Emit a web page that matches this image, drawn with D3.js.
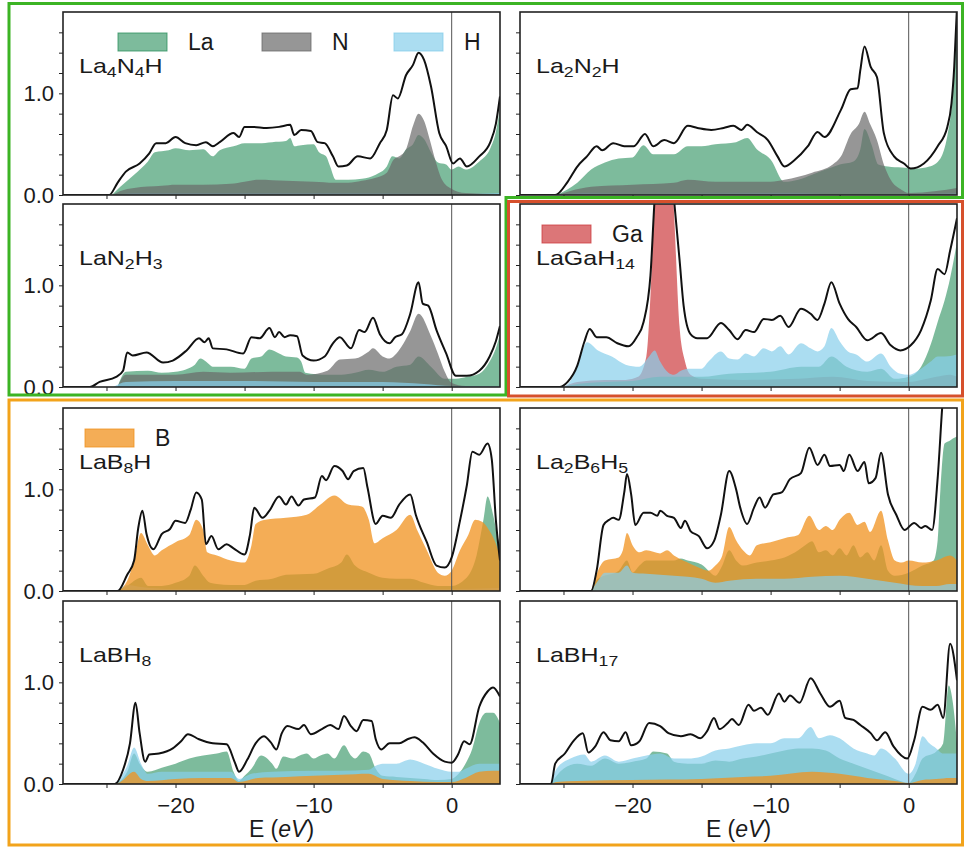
<!DOCTYPE html>
<html>
<head>
<meta charset="utf-8">
<script src="https://cdn.jsdelivr.net/npm/d3@7"></script>
<style>
  body { margin: 0; background: #fff; }
  svg { display: block; }
  text { font-family: "Liberation Sans", Arial, Helvetica, sans-serif; fill: #1a1a1a; }
</style>
</head>
<body>
<svg id="chart" width="964" height="847"></svg>
<script>
// ---- axes ----
const energyRange = [-28.15, 3.5];
const dosRange = [0, 1.8];
const energyTicks = [-25, -20, -15, -10, -5, 0];
const energyTickLabels = [-20, -10, 0];
const dosTicks = [0, 0.2, 0.4, 0.6, 0.8, 1.0, 1.2, 1.4, 1.6];
const dosTickLabels = [0, 1.0];

// ---- La4N4H : [E (eV), DOS] ----
const la4n4h_total = [[-28.15,0],[-24.8,0],[-24.2,0.12],[-23.6,0.23],[-22.6,0.31],[-21.9,0.41],[-21.4,0.51],[-20.7,0.51],[-20.0,0.57],[-19.3,0.51],[-18.5,0.49],[-17.8,0.52],[-17.3,0.48],[-16.8,0.52],[-15.8,0.61],[-15.4,0.57],[-15.0,0.67],[-14.4,0.67],[-13.4,0.66],[-12.5,0.67],[-11.7,0.69],[-11.4,0.59],[-10.9,0.64],[-10.2,0.63],[-9.7,0.52],[-9.2,0.51],[-8.6,0.38],[-8.2,0.28],[-7.6,0.29],[-6.8,0.38],[-5.9,0.36],[-5.2,0.51],[-4.7,0.64],[-4.25,0.98],[-3.9,0.95],[-3.3,1.18],[-2.8,1.28],[-2.4,1.40],[-2.0,1.33],[-1.5,1.07],[-0.9,0.61],[-0.4,0.48],[0.1,0.31],[0.6,0.36],[1.1,0.28],[2.0,0.38],[2.8,0.52],[3.2,0.70],[3.5,0.97]];
const la4n4h_La = [[-24.6,0],[-24,0.08],[-23,0.2],[-22,0.33],[-21.5,0.42],[-20.5,0.44],[-20,0.46],[-19,0.44],[-18,0.45],[-17.3,0.38],[-16.8,0.44],[-15.8,0.48],[-15,0.51],[-14,0.51],[-13,0.52],[-12,0.53],[-11.7,0.56],[-11.4,0.48],[-10.9,0.49],[-10.0,0.50],[-9.6,0.42],[-9.1,0.38],[-8.8,0.28],[-8.4,0.15],[-7.5,0.15],[-6.5,0.16],[-5.5,0.2],[-4.7,0.28],[-4.3,0.38],[-3.8,0.36],[-3.3,0.45],[-2.8,0.5],[-2.4,0.59],[-2.0,0.55],[-1.5,0.42],[-1.0,0.32],[-0.4,0.30],[0,0.25],[0.5,0.28],[1,0.25],[2,0.33],[2.8,0.46],[3.2,0.62],[3.5,0.85]];
const la4n4h_N = [[-24.6,0],[-24,0.04],[-23,0.07],[-21,0.09],[-20,0.1],[-18,0.1],[-16,0.11],[-15,0.13],[-14,0.15],[-12,0.14],[-10,0.13],[-8.5,0.12],[-7.5,0.12],[-6.5,0.14],[-5.5,0.17],[-4.7,0.22],[-4.2,0.35],[-3.8,0.38],[-3.3,0.45],[-2.8,0.68],[-2.4,0.80],[-2.0,0.73],[-1.6,0.55],[-1.2,0.35],[-0.7,0.15],[0,0.06],[1,0.02],[3.5,0.01]];
const la4n4h_H = [[-24.6,0],[-23,0.02],[-15,0.02],[-7,0.02],[0,0.01],[3.5,0.02]];

// ---- La2N2H ----
const la2n2h_total = [[-28.15,0],[-25.6,0],[-24.7,0.13],[-24.0,0.28],[-23.3,0.38],[-22.6,0.48],[-22.2,0.44],[-21.4,0.51],[-20.6,0.48],[-19.9,0.48],[-19.1,0.60],[-18.5,0.48],[-17.7,0.54],[-17.0,0.51],[-16.0,0.68],[-15.3,0.66],[-14.3,0.64],[-13.4,0.66],[-12.7,0.68],[-12.1,0.64],[-11.7,0.69],[-11.0,0.62],[-10.2,0.54],[-9.5,0.38],[-9.0,0.28],[-8.3,0.34],[-7.3,0.48],[-6.6,0.62],[-6.1,0.57],[-4.9,0.84],[-4.2,1.04],[-3.7,1.05],[-3.5,1.23],[-3.2,1.46],[-2.75,1.26],[-2.3,1.16],[-1.8,0.61],[-1.06,0.38],[-0.34,0.31],[0.15,0.26],[1.1,0.31],[2.1,0.48],[2.8,0.67],[3.1,0.9],[3.3,1.26],[3.5,1.85]];
const la2n2h_La = [[-25.5,0],[-24,0.12],[-23,0.25],[-22,0.32],[-21,0.36],[-20,0.37],[-19.2,0.49],[-18.5,0.4],[-17,0.4],[-16,0.48],[-15,0.48],[-14,0.5],[-12.5,0.52],[-11.7,0.56],[-11,0.45],[-10,0.35],[-9,0.13],[-8,0.15],[-7,0.2],[-6,0.25],[-5,0.3],[-4,0.33],[-3.5,0.45],[-3.2,0.65],[-2.7,0.5],[-2.2,0.3],[-1.5,0.28],[-0.5,0.27],[0.5,0.26],[1.5,0.28],[2.3,0.36],[2.8,0.58],[3.1,0.85],[3.3,1.2],[3.5,1.85]];
const la2n2h_N = [[-25.5,0],[-24.5,0.04],[-23,0.08],[-20,0.1],[-17,0.12],[-16,0.15],[-14,0.13],[-10,0.13],[-9,0.15],[-7,0.22],[-5.5,0.3],[-4.9,0.38],[-4.2,0.6],[-3.6,0.7],[-3.2,0.82],[-2.8,0.7],[-2.3,0.54],[-1.8,0.3],[-1.3,0.15],[-0.5,0.05],[0,0.02],[2,0.04],[3.5,0.07]];
const la2n2h_H = [[-25.5,0],[-23.5,0.02],[-20,0.01],[-8,0.02],[-6,0.01],[0,0.01],[3.5,0.02]];

// ---- LaN2H3 ----
const lan2h3_total = [[-28.15,0],[-26.2,0],[-25.5,0.05],[-24.3,0.1],[-23.8,0.16],[-23.5,0.34],[-23.1,0.31],[-22.1,0.34],[-20.9,0.24],[-20.2,0.26],[-19.2,0.36],[-18.3,0.48],[-17.9,0.44],[-17.6,0.48],[-17.3,0.38],[-16.3,0.37],[-15.1,0.33],[-14.5,0.49],[-13.9,0.48],[-13.2,0.58],[-12.8,0.49],[-12.5,0.54],[-12.1,0.49],[-11.7,0.51],[-11.2,0.50],[-10.8,0.31],[-10.0,0.26],[-9.2,0.30],[-8.6,0.43],[-8.1,0.49],[-7.3,0.38],[-6.7,0.56],[-6.3,0.54],[-5.7,0.68],[-5.2,0.52],[-4.5,0.43],[-4.1,0.49],[-3.6,0.52],[-3.0,0.72],[-2.4,1.03],[-2.1,0.82],[-1.7,0.80],[-1.1,0.56],[-0.4,0.33],[0.3,0.11],[1.1,0.11],[2.0,0.16],[2.75,0.3],[3.2,0.45],[3.5,0.6]];
const lan2h3_La = [[-24.2,0],[-23.6,0.15],[-22,0.16],[-21,0.14],[-20,0.15],[-18.6,0.22],[-18.2,0.28],[-17.8,0.25],[-17.3,0.2],[-16,0.2],[-15,0.18],[-14.5,0.28],[-13.8,0.3],[-13.2,0.37],[-12.5,0.33],[-12,0.3],[-11.2,0.29],[-10.9,0.25],[-10.6,0.14],[-9,0.12],[-8,0.12],[-7,0.14],[-6,0.17],[-5,0.15],[-4,0.2],[-3,0.22],[-2.4,0.3],[-1.5,0.2],[-0.5,0.08],[0.3,0.08],[1.1,0.1],[2,0.13],[2.75,0.25],[3.2,0.38],[3.5,0.52]];
const lan2h3_N = [[-24.2,0],[-23.6,0.12],[-20,0.12],[-18,0.15],[-16,0.14],[-13,0.15],[-11,0.15],[-10.5,0.12],[-9,0.16],[-8.1,0.27],[-7,0.28],[-6,0.35],[-5.7,0.38],[-5,0.3],[-4.5,0.28],[-4,0.33],[-3,0.55],[-2.4,0.72],[-1.5,0.5],[-1,0.33],[-0.5,0.15],[0,0.04],[1,0.01],[3.5,0.01]];
const lan2h3_H = [[-24.5,0],[-23.6,0.05],[-20,0.06],[-15,0.06],[-10,0.05],[-5,0.05],[-2,0.03],[0,0.01],[3.5,0.01]];

// ---- LaGaH14 ----
const lagah14_total = [[-28.15,0],[-25.3,0],[-24.7,0.05],[-24.0,0.21],[-23.5,0.44],[-23.1,0.57],[-22.6,0.49],[-21.9,0.49],[-21.1,0.43],[-20.3,0.40],[-19.7,0.49],[-19.2,0.64],[-18.7,1.1],[-18.4,1.85],[-17.7,2.8],[-17.0,1.85],[-16.6,1.26],[-16.3,0.80],[-15.8,0.52],[-15.3,0.48],[-14.6,0.48],[-13.6,0.63],[-13.0,0.56],[-12.4,0.47],[-11.8,0.56],[-11.2,0.54],[-10.5,0.67],[-9.9,0.66],[-9.3,0.70],[-8.7,0.59],[-7.8,0.77],[-7.1,0.72],[-6.6,0.66],[-6.1,0.82],[-5.6,1.03],[-5.0,0.82],[-4.4,0.67],[-3.8,0.59],[-3.0,0.46],[-2.0,0.53],[-1.3,0.41],[-0.6,0.36],[0.15,0.41],[0.9,0.56],[1.6,0.85],[2.1,1.16],[2.6,1.11],[3.0,1.34],[3.5,1.66]];
const lagah14_La = [[-25,0],[-24,0.03],[-22,0.05],[-20,0.06],[-18,0.1],[-15,0.1],[-13,0.13],[-10,0.15],[-7.8,0.2],[-6.5,0.2],[-5.6,0.3],[-4.5,0.2],[-3,0.15],[-2,0.18],[-1,0.08],[0,0.1],[0.9,0.2],[1.6,0.42],[2.1,0.64],[2.6,0.85],[3.0,1.07],[3.5,1.43]];
const lagah14_H = [[-25,0],[-24.5,0.06],[-24,0.2],[-23.3,0.44],[-22.5,0.36],[-21.5,0.3],[-20.5,0.22],[-19.5,0.2],[-18.8,0.3],[-18.4,0.36],[-18,0.25],[-17.4,0.14],[-17,0.12],[-16.5,0.16],[-16,0.18],[-15,0.18],[-14.5,0.25],[-13.6,0.35],[-13,0.28],[-12.4,0.27],[-11.8,0.33],[-11.2,0.3],[-10.5,0.38],[-9.9,0.35],[-9.3,0.4],[-8.7,0.32],[-7.8,0.43],[-7.1,0.38],[-6.6,0.35],[-6.1,0.4],[-5.6,0.58],[-5,0.45],[-4.4,0.35],[-3.8,0.32],[-3,0.25],[-2,0.33],[-1.3,0.2],[-0.6,0.13],[0,0.12],[0.9,0.18],[1.6,0.25],[2.1,0.3],[2.6,0.3],[3.5,0.32]];
const lagah14_Ga = [[-25,0],[-24,0.05],[-22,0.07],[-20.5,0.07],[-19.6,0.1],[-19.0,0.3],[-18.7,0.9],[-18.4,1.85],[-17.7,2.7],[-17.05,1.85],[-16.6,0.6],[-16.2,0.25],[-15.8,0.12],[-15,0.08],[-12,0.07],[-8,0.08],[-5.5,0.1],[-3,0.06],[0,0.05],[2,0.1],[3,0.12],[3.5,0.1]];

// ---- LaB8H ----
const lab8h_total = [[-28.15,0],[-24.2,0],[-23.5,0.16],[-23.0,0.30],[-22.7,0.62],[-22.4,0.79],[-22.1,0.56],[-21.6,0.41],[-21.0,0.56],[-20.4,0.61],[-20.0,0.69],[-19.3,0.67],[-18.9,0.80],[-18.5,0.97],[-18.1,0.90],[-17.8,0.46],[-17.4,0.54],[-16.9,0.41],[-16.3,0.46],[-15.8,0.42],[-15.0,0.36],[-14.6,0.56],[-14.3,0.82],[-13.7,0.72],[-13.2,0.79],[-12.5,0.93],[-12.0,0.85],[-11.6,0.93],[-11.1,0.84],[-10.7,0.90],[-9.9,0.92],[-9.4,1.13],[-9.1,1.09],[-8.5,1.23],[-7.9,1.18],[-7.5,1.10],[-7.1,1.18],[-6.4,1.21],[-6.1,1.02],[-5.5,0.66],[-5.0,0.74],[-4.4,0.72],[-3.8,0.85],[-3.0,0.95],[-2.6,0.75],[-1.8,0.48],[-1.1,0.25],[-0.5,0.23],[0.0,0.33],[0.6,0.69],[1.1,1.04],[1.5,1.37],[2.0,1.34],[2.6,1.45],[2.9,1.3],[3.2,0.7],[3.5,0.3]];
const lab8h_La = [[-24.2,0],[-23.5,0.05],[-22.5,0.13],[-22,0.05],[-21,0.05],[-20,0.08],[-19,0.15],[-18.6,0.25],[-18,0.15],[-17.5,0.08],[-17,0.07],[-16,0.06],[-15,0.06],[-14.2,0.1],[-13,0.12],[-12,0.16],[-10,0.17],[-9,0.22],[-8,0.28],[-7.6,0.36],[-7,0.25],[-6,0.18],[-5,0.13],[-4,0.12],[-3,0.12],[-2,0.08],[-1,0.05],[0,0.05],[1,0.12],[1.8,0.35],[2.3,0.7],[2.6,0.93],[3.0,0.75],[3.3,0.55],[3.5,0.45]];
const lab8h_H = [[-24.2,0],[-23.5,0.06],[-22.5,0.04],[-20,0.02],[-10,0.02],[0,0.02],[3.5,0.03]];
const lab8h_B = [[-24.2,0],[-23.5,0.1],[-23,0.3],[-22.5,0.57],[-22,0.45],[-21.5,0.35],[-21,0.4],[-20,0.48],[-19,0.55],[-18.5,0.7],[-18,0.6],[-17.7,0.38],[-17,0.35],[-16,0.3],[-15,0.28],[-14.5,0.45],[-14.2,0.66],[-13.5,0.7],[-12,0.72],[-10.5,0.75],[-9.5,0.85],[-8.5,0.94],[-7.5,0.85],[-6.5,0.83],[-6,0.7],[-5.6,0.47],[-5,0.52],[-4,0.6],[-3,0.75],[-2.5,0.6],[-1.8,0.4],[-1,0.18],[-0.5,0.15],[0,0.2],[0.6,0.4],[1.2,0.55],[1.7,0.7],[2.2,0.68],[2.7,0.6],[3.1,0.5],[3.5,0.35]];

// ---- La2B6H5 ----
const la2b6h5_total = [[-28.15,0],[-23.0,0],[-22.6,0.2],[-22.1,0.65],[-21.7,0.70],[-21.4,0.72],[-21.0,0.70],[-20.6,0.97],[-20.4,1.15],[-20.1,0.95],[-19.8,0.65],[-19.2,0.77],[-18.7,0.77],[-18.2,0.74],[-18.0,0.79],[-17.5,0.74],[-17.0,0.72],[-16.5,0.62],[-16.2,0.69],[-15.8,0.59],[-15.2,0.54],[-14.6,0.42],[-14.1,0.49],[-13.6,0.75],[-13.0,1.18],[-12.5,1.0],[-12.2,0.82],[-11.7,0.66],[-11.2,0.82],[-10.8,0.92],[-10.4,0.82],[-9.8,0.95],[-9.2,0.97],[-8.6,1.10],[-7.8,1.16],[-7.2,1.41],[-6.6,1.24],[-6.1,1.34],[-5.7,1.23],[-5.0,1.24],[-4.7,1.18],[-4.3,1.34],[-3.7,1.18],[-3.2,1.27],[-2.9,1.06],[-2.4,1.11],[-2.0,1.36],[-1.5,0.95],[-0.9,0.75],[-0.3,0.60],[0.4,0.67],[0.9,0.62],[1.2,0.64],[1.7,0.60],[2.1,1.11],[2.45,1.85],[3.5,3.0]];
const la2b6h5_La = [[-23,0],[-22.5,0.12],[-21,0.2],[-20.4,0.3],[-20,0.18],[-19.5,0.25],[-19,0.3],[-18,0.3],[-17,0.3],[-16.5,0.32],[-16,0.3],[-15,0.26],[-14.5,0.2],[-14,0.15],[-13.5,0.25],[-13,0.4],[-12.5,0.3],[-12,0.25],[-11,0.28],[-10,0.3],[-9,0.33],[-8,0.4],[-7.5,0.45],[-7,0.49],[-6.5,0.38],[-6,0.4],[-5.5,0.35],[-5,0.42],[-4.5,0.35],[-4,0.45],[-3.5,0.33],[-3,0.38],[-2.5,0.3],[-2,0.45],[-1.5,0.2],[-1,0.15],[0,0.18],[1,0.25],[1.8,0.3],[2.1,0.5],[2.3,1.0],[2.6,1.45],[3.0,1.48],[3.2,1.5],[3.5,1.52]];
const la2b6h5_H = [[-23,0],[-22.5,0.1],[-22,0.18],[-21,0.18],[-20.4,0.25],[-20,0.18],[-19,0.17],[-17,0.15],[-15,0.12],[-14,0.08],[-13,0.1],[-11,0.12],[-9,0.12],[-7,0.14],[-5,0.15],[-3,0.12],[-1,0.08],[0,0.06],[1,0.05],[2,0.05],[3,0.07],[3.5,0.07]];
const la2b6h5_B = [[-23,0],[-22.5,0.2],[-22,0.3],[-21,0.33],[-20.7,0.4],[-20.4,0.57],[-20,0.45],[-19.5,0.38],[-19,0.4],[-18,0.37],[-17.5,0.4],[-17,0.35],[-16,0.28],[-15,0.22],[-14.5,0.2],[-14,0.25],[-13.5,0.35],[-13,0.63],[-12.5,0.5],[-12,0.4],[-11.5,0.35],[-11,0.45],[-10,0.48],[-9,0.52],[-8,0.55],[-7.2,0.74],[-6.5,0.6],[-6,0.64],[-5.5,0.6],[-5,0.7],[-4.3,0.77],[-3.7,0.65],[-3.2,0.68],[-2.8,0.58],[-2,0.79],[-1.5,0.5],[-1,0.3],[-0.5,0.28],[0,0.3],[1,0.28],[2,0.3],[3,0.35],[3.5,0.3]];

// ---- LaBH8 ----
const labh8_total = [[-28.15,0],[-24.4,0],[-23.8,0.14],[-23.3,0.40],[-22.9,0.80],[-22.6,0.50],[-22.2,0.22],[-21.9,0.29],[-21.2,0.30],[-20.2,0.35],[-19.6,0.42],[-19.1,0.49],[-18.3,0.44],[-17.3,0.40],[-16.3,0.39],[-15.7,0.21],[-15.4,0.12],[-14.8,0.24],[-14.2,0.40],[-13.6,0.47],[-13.1,0.41],[-12.7,0.34],[-12.3,0.50],[-11.9,0.57],[-11.1,0.54],[-10.7,0.58],[-10.2,0.49],[-9.4,0.54],[-8.8,0.58],[-8.2,0.54],[-7.8,0.67],[-7.3,0.57],[-6.9,0.52],[-6.4,0.63],[-5.8,0.62],[-5.5,0.44],[-5.1,0.34],[-4.5,0.40],[-3.8,0.40],[-3.2,0.44],[-2.7,0.46],[-2.1,0.41],[-1.35,0.30],[-0.5,0.22],[0.0,0.21],[0.46,0.29],[0.9,0.42],[1.3,0.39],[2.0,0.76],[2.6,0.91],[3.0,0.95],[3.5,0.86]];
const labh8_La = [[-24.4,0],[-23.5,0.12],[-23,0.3],[-22.6,0.2],[-22,0.12],[-21,0.16],[-20,0.2],[-19,0.25],[-18,0.28],[-17,0.3],[-16.3,0.32],[-15.8,0.12],[-15.4,0.03],[-15,0.08],[-14.5,0.15],[-13.8,0.28],[-13,0.2],[-12.7,0.15],[-12.2,0.27],[-11.5,0.25],[-11,0.28],[-10.5,0.3],[-10,0.25],[-9.5,0.28],[-9,0.3],[-8.5,0.25],[-7.8,0.38],[-7.3,0.28],[-7,0.25],[-6.4,0.32],[-6,0.3],[-5.5,0.15],[-5,0.08],[-4,0.07],[-3,0.06],[-2,0.05],[-1,0.04],[0,0.05],[0.5,0.1],[1,0.2],[1.5,0.35],[2,0.6],[2.5,0.7],[3,0.7],[3.5,0.6]];
const labh8_H = [[-24.4,0],[-23.5,0.18],[-23,0.36],[-22.5,0.2],[-22,0.1],[-21,0.12],[-19,0.12],[-16,0.12],[-15.4,0.05],[-14.5,0.1],[-13,0.12],[-10,0.13],[-8,0.13],[-6,0.14],[-5.5,0.18],[-5,0.2],[-4,0.2],[-3,0.24],[-2,0.2],[-1,0.15],[0,0.12],[0.5,0.12],[1,0.15],[2,0.2],[3,0.2],[3.5,0.2]];
const labh8_B = [[-24.4,0],[-24,0.02],[-23,0.12],[-22.5,0.05],[-22,0.03],[-20,0.05],[-18,0.06],[-16,0.06],[-15.4,0.02],[-14,0.06],[-12,0.07],[-10,0.08],[-8,0.09],[-6,0.1],[-5,0.05],[-3,0.03],[-1,0.02],[0,0.02],[1,0.06],[2,0.12],[3,0.13],[3.5,0.13]];

// ---- LaBH17 ----
const labh17_total = [[-28.15,0],[-25.9,0],[-25.6,0.2],[-24.9,0.3],[-24.3,0.42],[-23.6,0.5],[-23.2,0.31],[-22.7,0.37],[-22.1,0.51],[-21.6,0.43],[-21.0,0.42],[-20.5,0.51],[-20.1,0.38],[-19.5,0.42],[-18.8,0.60],[-18.0,0.57],[-17.4,0.50],[-16.5,0.47],[-15.8,0.49],[-15.1,0.45],[-14.6,0.52],[-14.1,0.65],[-13.7,0.54],[-13.1,0.60],[-12.8,0.64],[-12.3,0.58],[-11.6,0.78],[-11.2,0.72],[-10.7,0.75],[-10.2,0.68],[-9.4,0.89],[-9.0,0.81],[-8.6,0.87],[-7.9,0.80],[-7.1,1.04],[-6.4,0.89],[-5.7,0.76],[-5.0,0.82],[-4.6,0.65],[-4.0,0.63],[-3.5,0.58],[-2.75,0.50],[-2.3,0.43],[-1.7,0.51],[-1.1,0.37],[-0.1,0.25],[0.4,0.43],[1.0,0.76],[1.6,0.73],[2.1,0.78],[2.5,0.65],[3.0,1.38],[3.5,1.02]];
const labh17_La = [[-25.9,0],[-25.5,0.08],[-25,0.15],[-24,0.2],[-23,0.18],[-22,0.25],[-21,0.2],[-20,0.22],[-19,0.25],[-18.5,0.32],[-17.5,0.3],[-17,0.22],[-16,0.2],[-15,0.2],[-14,0.23],[-13,0.22],[-12,0.25],[-11,0.27],[-10,0.3],[-9,0.33],[-8,0.35],[-7,0.35],[-6,0.33],[-5,0.25],[-4,0.2],[-3,0.15],[-2,0.1],[-1,0.05],[0,0.01],[0.5,0.1],[1,0.25],[2,0.32],[2.5,0.4],[2.9,0.97],[3.2,0.8],[3.5,0.4]];
const labh17_H = [[-25.9,0],[-25.5,0.15],[-24.5,0.25],[-23.5,0.29],[-23,0.22],[-22,0.28],[-21,0.22],[-20,0.25],[-19,0.28],[-18,0.3],[-17,0.25],[-16,0.25],[-15,0.27],[-14,0.33],[-13,0.35],[-12,0.38],[-11,0.4],[-10,0.4],[-9,0.45],[-8,0.45],[-7.1,0.56],[-6.5,0.45],[-5.7,0.48],[-5,0.45],[-4,0.35],[-3,0.3],[-2.5,0.28],[-2,0.35],[-1,0.25],[0,0.1],[0.5,0.2],[1,0.47],[1.5,0.4],[2,0.35],[2.5,0.3],[3,0.3],[3.5,0.3]];
const labh17_B = [[-25.9,0],[-25.5,0.02],[-24,0.03],[-20,0.04],[-15,0.05],[-12,0.07],[-10,0.08],[-7,0.12],[-5,0.1],[-3,0.06],[-1,0.03],[0,0.01],[1,0.04],[2,0.05],[3,0.06],[3.5,0.06]];

// ---- styling ----
const elementStyle = {
  La: { color: "rgb(45,145,95)",   opacity: 0.62 },
  H:  { color: "rgb(135,206,235)", opacity: 0.7 },
  N:  { color: "rgb(105,105,105)", opacity: 0.7 },
  Ga: { color: "rgb(205,60,62)",   opacity: 0.7 },
  B:  { color: "rgb(240,145,30)",  opacity: 0.75 }
};

// panel grid geometry
const colX = [63, 520];
const rowY = [12, 204, 408, 601];
const panelW = 437, panelH = 183;

// parts are listed in drawing order (later ones lie on top)
const panels = [
  { name: "La4N4H",  col: 0, row: 0, total: la4n4h_total,
    parts: [["La", la4n4h_La], ["H", la4n4h_H], ["N", la4n4h_N]],
    legend: [["La", 55], ["N", 199], ["H", 331]] },
  { name: "La2N2H",  col: 1, row: 0, total: la2n2h_total,
    parts: [["La", la2n2h_La], ["H", la2n2h_H], ["N", la2n2h_N]], legend: [] },
  { name: "LaN2H3",  col: 0, row: 1, total: lan2h3_total,
    parts: [["La", lan2h3_La], ["N", lan2h3_N], ["H", lan2h3_H]], legend: [] },
  { name: "LaGaH14", col: 1, row: 1, total: lagah14_total,
    parts: [["Ga", lagah14_Ga], ["La", lagah14_La], ["H", lagah14_H]],
    legend: [["Ga", 22]] },
  { name: "LaB8H",   col: 0, row: 2, total: lab8h_total,
    parts: [["La", lab8h_La], ["H", lab8h_H], ["B", lab8h_B]],
    legend: [["B", 22]] },
  { name: "La2B6H5", col: 1, row: 2, total: la2b6h5_total,
    parts: [["La", la2b6h5_La], ["B", la2b6h5_B], ["H", la2b6h5_H]], legend: [] },
  { name: "LaBH8",   col: 0, row: 3, total: labh8_total,
    parts: [["La", labh8_La], ["H", labh8_H], ["B", labh8_B]], legend: [] },
  { name: "LaBH17",  col: 1, row: 3, total: labh17_total,
    parts: [["La", labh17_La], ["H", labh17_H], ["B", labh17_B]], legend: [] }
];

const svg = d3.select("#chart");
const defs = svg.append("defs");

const x = d3.scaleLinear().domain(energyRange).range([0, panelW]);
const y = d3.scaleLinear().domain(dosRange).range([panelH, 0]);

const area = d3.area()
  .x(d => x(d[0])).y0(y(0)).y1(d => y(d[1]))
  .curve(d3.curveMonotoneX);
const line = d3.line()
  .x(d => x(d[0])).y(d => y(d[1]))
  .curve(d3.curveMonotoneX);

const fmtTick = d3.format(".1f");
const FONT = "\"Liberation Sans\", Arial, Helvetica, sans-serif";

panels.forEach((p, i) => {
  const g = svg.append("g").attr("transform", `translate(${colX[p.col]},${rowY[p.row]})`);
  const clipId = "clip" + i;
  defs.append("clipPath").attr("id", clipId)
    .append("rect").attr("width", panelW).attr("height", panelH);

  const plot = g.append("g").attr("clip-path", `url(#${clipId})`);

  // partial DOS fills
  p.parts.forEach(([el, data]) => {
    plot.append("path").datum(data)
      .attr("d", area)
      .attr("fill", elementStyle[el].color)
      .attr("fill-opacity", elementStyle[el].opacity);
  });

  // Fermi level
  plot.append("line")
    .attr("x1", x(0)).attr("x2", x(0)).attr("y1", 0).attr("y2", panelH)
    .attr("stroke", "#555").attr("stroke-width", 1);

  // total DOS
  plot.append("path").datum(p.total)
    .attr("d", line)
    .attr("fill", "none").attr("stroke", "#111").attr("stroke-width", 2)
    .attr("stroke-linejoin", "round");

  // axes
  const isBottom = p.row === 3;
  const xAxis = d3.axisBottom(x).tickValues(energyTicks).tickSize(4).tickPadding(9)
    .tickFormat(d => (isBottom && energyTickLabels.includes(d)) ? d3.format("d")(d) : "");
  const gx = g.append("g").attr("transform", `translate(0,${panelH})`).call(xAxis);
  const yAxis = d3.axisLeft(y).tickValues(dosTicks).tickSize(4).tickPadding(5)
    .tickFormat(d => (p.col === 0 && dosTickLabels.includes(d)) ? fmtTick(d) : "");
  const gy = g.append("g").call(yAxis);
  [gx, gy].forEach(a => {
    a.select(".domain").remove();
    a.selectAll(".tick line").attr("stroke", "#222").attr("stroke-width", 1);
    // keep only the labelled ticks' text elements
    a.selectAll(".tick text").filter(function () { return this.textContent === ""; }).remove();
    a.selectAll(".tick text").attr("font-size", 22).attr("fill", "#1a1a1a")
      .attr("font-family", FONT);
  });

  // frame
  g.append("rect").attr("width", panelW).attr("height", panelH)
    .attr("fill", "none").attr("stroke", "#222").attr("stroke-width", 1.6);

  // compound label with subscripted counts
  const label = g.append("text")
    .attr("transform", "translate(16,61) scale(1.22,1)")
    .attr("font-size", 20.5);
  let lowered = false;
  p.name.match(/[A-Za-z]+|\d+/g).forEach(tok => {
    const isSub = /\d/.test(tok);
    const ts = label.append("tspan").text(tok);
    if (isSub) {
      ts.attr("font-size", 14.5);
      if (!lowered) { ts.attr("dy", 4); lowered = true; }
    } else if (lowered) {
      ts.attr("dy", -4); lowered = false;
    }
  });

  // legend entries
  p.legend.forEach(([el, off]) => {
    g.append("rect").attr("x", off).attr("y", 21).attr("width", 49).attr("height", 18)
      .attr("fill", elementStyle[el].color).attr("fill-opacity", elementStyle[el].opacity)
      .attr("stroke", elementStyle[el].color).attr("stroke-opacity", 0.8).attr("stroke-width", 1);
    g.append("text").attr("x", off + 70).attr("y", 38).attr("font-size", 23).text(el);
  });

  if (isBottom) {
    const xl = g.append("text").attr("x", panelW / 2).attr("y", panelH + 53)
      .attr("text-anchor", "middle").attr("font-size", 23);
    xl.append("tspan").text("E (");
    xl.append("tspan").attr("font-style", "italic").text("eV");
    xl.append("tspan").text(")");
  }
});

// group outlines
svg.append("path").attr("d", "M9,3.5 H962.5 V197.5 H506 V395 H9 Z")
  .attr("fill", "none").attr("stroke", "#3cb424").attr("stroke-width", 3);
svg.append("path").attr("d", "M508.5,201.5 H962.5 V396 H508.5 Z")
  .attr("fill", "none").attr("stroke", "#d6502c").attr("stroke-width", 3);
svg.append("path").attr("d", "M9,400 H962.5 V845 H9 Z")
  .attr("fill", "none").attr("stroke", "#f2a31b").attr("stroke-width", 3);
</script>
</body>
</html>
